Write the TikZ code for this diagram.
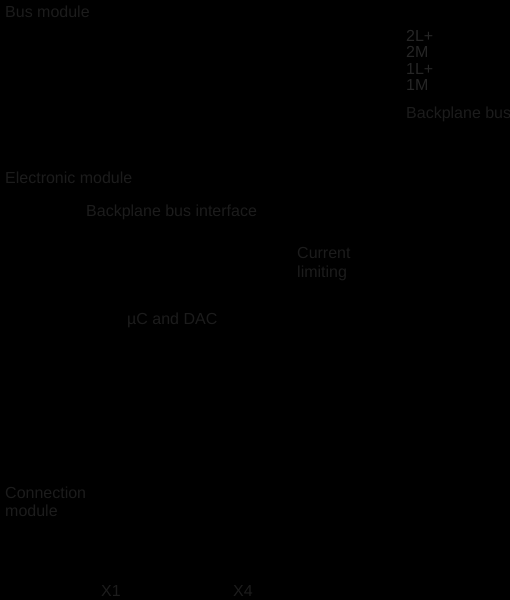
\documentclass[tikz,border=0pt]{standalone}
\usepackage{fontspec}
\setmainfont{Liberation Sans}
\usetikzlibrary{positioning}
\definecolor{lbltxt}{RGB}{28,28,28}
\definecolor{volttxt}{RGB}{38,38,38}
\tikzset{
  lbl/.style={anchor=base west, inner sep=0pt, text=lbltxt, align=left,
    font=\fontsize{16bp}{18bp}\selectfont},
  vlbl/.style={lbl, text=volttxt},
}

\begin{document}
\begin{tikzpicture}[x=1bp, y=-1bp]
  % --- background (sets the page size) ---
  \fill[black] (0,0) rectangle (510,600);
  \useasboundingbox (0,0) rectangle (510,600);

  % --- Bus module ---
  \node[lbl] (busmod) at (5,18) {Bus module};
  \node[vlbl] (L2) at (406,42) {2L+};
  \node[vlbl] (M2) at (406,58) {2M};
  \node[vlbl] (L1) at (406,75) {1L+};
  \node[vlbl] (M1) at (406,91) {1M};
  \node[lbl] (bpbus) at (406,119) {Backplane bus};

  % --- Electronic module ---
  \node[lbl] (elecmod) at (5,183) {Electronic module};
  \node[lbl] (bpif) at (86,216) {Backplane bus interface};
  \node[lbl, font=\fontsize{16bp}{19bp}\selectfont] (curlim) at (297,277) {Current\\limiting};
  \node[lbl] (mudac) at (127,324) {\char"00B5 C and DAC};

  % --- Connection module ---
  \node[lbl] (connmod) at (5,516) {Connection\\module};
  \node[lbl] (X1) at (101,596) {X1};
  \node[lbl] (X4) at (233,596) {X4};
\end{tikzpicture}
\end{document}
